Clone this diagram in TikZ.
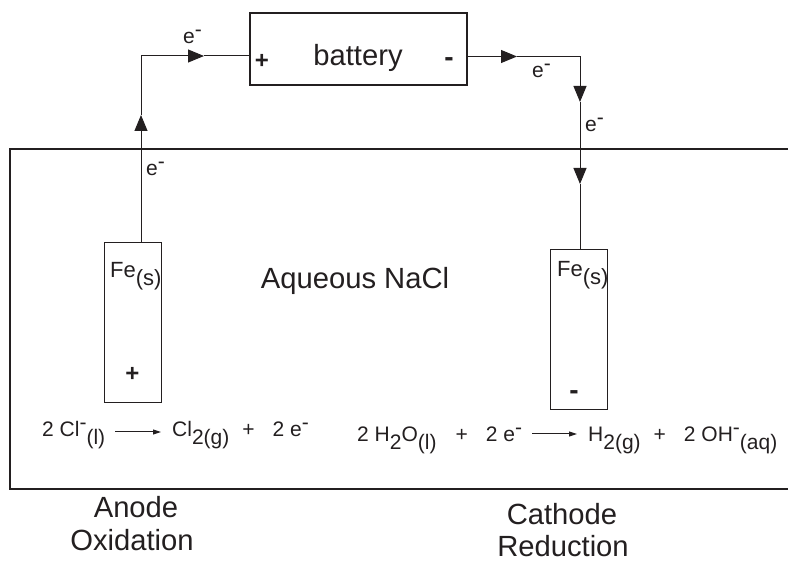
\documentclass[tikz,border=0pt]{standalone}
\usepackage{fontspec}
\setmainfont{Liberation Sans}
\usetikzlibrary{arrows.meta}
\definecolor{ink}{HTML}{231F20}
\newcommand{\sups}[1]{\raisebox{7pt}{#1}}
\newcommand{\subs}[1]{\raisebox{-8pt}{#1}}
\tikzset{
	wire/.style={draw=ink,line width=1pt},
	flow/.style={wire,-{Triangle[length=16pt,width=13pt]}},
	react/.style={wire,-{Triangle[length=8pt,width=5pt]},shorten <=10pt,shorten >=11pt},
	heavy/.style={draw=ink,line width=2.8pt},
	electrode/.style={draw=ink,line width=1pt,minimum width=57pt,minimum height=160pt,inner sep=0pt},
	big/.style={inner sep=0pt,anchor=base,text=ink,font=\fontsize{29.2}{31}\selectfont},
	small/.style={inner sep=0pt,anchor=base west,text=ink,font=\fontsize{21}{24}\selectfont},
	sign/.style={inner sep=0pt,text=ink,font=\bfseries\fontsize{24}{26}\selectfont},
	dash sign/.style={inner sep=0pt,text=ink,font=\bfseries\fontsize{28}{30}\selectfont}
}
\begin{document}
\begin{tikzpicture}[x=1pt,y=-1pt]
\useasboundingbox (0,0) rectangle (788,561);
% tank, open on the right
\coordinate (tanktop) at (788,149);
\coordinate (tankbot) at (788,489);
\draw[heavy] (tanktop) -- (10,149) -- (10,489) -- (tankbot);
% boxes
\node[heavy,minimum width=217pt,minimum height=72pt,inner sep=0pt] (battery) at (358.5,49) {};
\node[electrode] (feA) at (133,323) {};
\node[electrode] (feB) at (578.5,329.5) {};
% wire from the anode
\coordinate (bendA) at (141,56);
\coordinate (tipA) at (141,115);
\coordinate (tipB) at (204,56);
\draw[flow] (bendA |- feA.north) -- (tipA);
\draw[wire] (tipA) -- (bendA);
\draw[flow] (bendA) -- (tipB);
\draw[wire] (tipB) -- (battery.west |- tipB);
% wire to the cathode
\coordinate (bendB) at (580,56.5);
\coordinate (tipC) at (517,56.5);
\coordinate (tipD) at (580,102);
\coordinate (tipE) at (580,184);
\draw[flow] (battery.east |- tipC) -- (tipC);
\draw[wire] (tipC) -- (bendB);
\draw[flow] (bendB) -- (tipD);
\draw[flow] (tipD) -- (tipE);
\draw[wire] (tipE) -- (bendB |- feB.north);
% labels
\node[big] (batterytxt) at (358,65.5) {battery};
\node[sign] (plusbat) at (262,61) {+};
\node[dash sign] (minusbat) at (449,62) {-};
\node[big] (naclbl) at (355,289) {Aqueous NaCl};
\node[small] (eA) at (183,44) {e\sups{-}};
\node[small] (eB) at (146,176) {e\sups{-}};
\node[small] (eC) at (532,78) {e\sups{-}};
\node[small] (eD) at (585,132) {e\sups{-}};
\node[small,font=\fontsize{22}{24}\selectfont] (feAtxt) at (110,278) {Fe\subs{(s)}};
\node[small,font=\fontsize{22}{24}\selectfont] (feBtxt) at (557,277) {Fe\subs{(s)}};
\node[sign] (plusfe) at (132.5,374) {+};
\node[dash sign] (minusfe) at (574,395) {-};
% reactions
\coordinate (rowA) at (0,432);
\coordinate (rowB) at (0,434);
\node[small] (clleft) at (42,437) {2 Cl\sups{-}\subs{(l)}};
\node[small] (clright) at (172,437) {Cl\subs{2(g)}\hspace{13pt}+\hspace{18pt}2 e\sups{-}};
\draw[react] (clleft.east |- rowA) -- (clright.west |- rowA);
\node[small] (hleft) at (357,442) {2 H\subs{2}O\subs{(l)}\hspace{19pt}+\hspace{18pt}2 e\sups{-}};
\node[small] (hright) at (588,442) {H\subs{2(g)}\hspace{13pt}+\hspace{18pt}2 OH\sups{-}\subs{(aq)}};
\draw[react] (hleft.east |- rowB) -- (hright.west |- rowB);
\node[big] (anode) at (136,518) {Anode};
\node[big] (oxid) at (132,550) {Oxidation};
\node[big] (cathode) at (562,524) {Cathode};
\node[big] (reduc) at (563,556) {Reduction};
\end{tikzpicture}
\end{document}
